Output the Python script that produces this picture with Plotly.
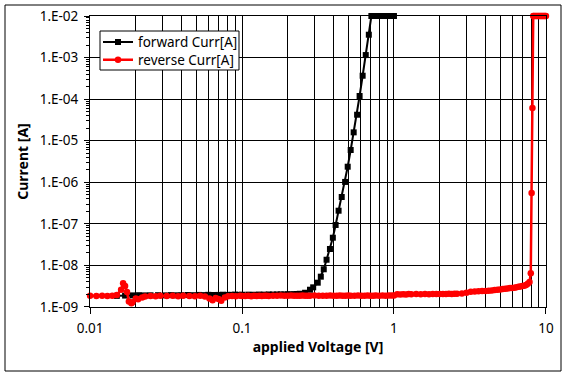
import plotly.graph_objects as go

# ---- data ----
fwd_v = [0.015, 0.017, 0.019, 0.021, 0.023, 0.025, 0.028, 0.031, 0.034, 0.037,
         0.040, 0.044, 0.048, 0.052, 0.056, 0.060, 0.065, 0.070, 0.075, 0.080,
         0.085, 0.090, 0.095, 0.10, 0.11, 0.12, 0.13, 0.14, 0.15, 0.16, 0.17,
         0.18, 0.19, 0.20, 0.21, 0.22, 0.23, 0.24, 0.26, 0.28, 0.294, 0.315,
         0.330, 0.345, 0.360, 0.379, 0.396, 0.413, 0.432, 0.453, 0.477, 0.496,
         0.519, 0.543, 0.572, 0.594, 0.622, 0.652, 0.683, 0.710, 0.73, 0.75,
         0.77, 0.79, 0.81, 0.83, 0.85, 0.87, 0.89, 0.91, 0.93, 0.95, 0.97, 1.0]
fwd_i = [1.85e-9, 1.88e-9, 1.90e-9, 1.92e-9, 1.90e-9, 1.91e-9, 1.92e-9, 1.90e-9, 1.93e-9, 1.91e-9,
         1.92e-9, 1.94e-9, 1.92e-9, 1.95e-9, 1.93e-9, 1.96e-9, 1.94e-9, 1.95e-9, 1.97e-9, 1.95e-9,
         1.96e-9, 1.98e-9, 1.96e-9, 1.97e-9, 1.98e-9, 1.97e-9, 1.99e-9, 1.98e-9, 2.00e-9, 1.99e-9, 2.00e-9,
         2.01e-9, 2.00e-9, 2.02e-9, 2.01e-9, 2.03e-9, 2.05e-9, 2.08e-9, 2.2e-9, 2.6e-9, 2.97e-9, 3.84e-9,
         5.36e-9, 8.07e-9, 1.37e-8, 2.48e-8, 4.64e-8, 9.4e-8, 2.07e-7, 4.43e-7, 1.02e-6, 2.37e-6,
         5.98e-6, 1.59e-5, 4.22e-5, 1.19e-4, 3.66e-4, 1.15e-3, 3.55e-3, 1.0e-2, 1.0e-2, 1.0e-2,
         1.0e-2, 1.0e-2, 1.0e-2, 1.0e-2, 1.0e-2, 1.0e-2, 1.0e-2, 1.0e-2, 1.0e-2, 1.0e-2, 1.0e-2, 1.0e-2]

rev_v = [0.010, 0.011, 0.012, 0.013, 0.014, 0.015, 0.016, 0.0165, 0.017, 0.0175,
         0.018, 0.0187, 0.019, 0.020, 0.0207, 0.022, 0.023, 0.025, 0.027, 0.029,
         0.032, 0.035, 0.038, 0.041, 0.045, 0.049, 0.053, 0.057, 0.061, 0.064,
         0.067, 0.070, 0.073, 0.077, 0.081, 0.086, 0.091, 0.097, 0.10, 0.105,
         0.11, 0.115, 0.12, 0.125, 0.13, 0.135, 0.14, 0.145, 0.15, 0.16,
         0.17, 0.18, 0.19, 0.20, 0.21, 0.22, 0.23, 0.24, 0.25, 0.26,
         0.27, 0.28, 0.30, 0.32, 0.34, 0.36, 0.38, 0.40, 0.42, 0.44,
         0.46, 0.48, 0.50, 0.52, 0.55, 0.58, 0.61, 0.64, 0.67, 0.70,
         0.73, 0.76, 0.80, 0.84, 0.88, 0.92, 0.96, 1.00, 1.05, 1.1,
         1.15, 1.2, 1.25, 1.3, 1.4, 1.5, 1.6, 1.7, 1.8, 1.9,
         2.0, 2.1, 2.2, 2.3, 2.4, 2.5, 2.6, 2.8, 3.0, 3.2,
         3.4, 3.6, 3.8, 4.0, 4.2, 4.4, 4.6, 4.8, 5.0, 5.2,
         5.4, 5.6, 5.8, 6.0, 6.2, 6.4, 6.6, 6.8, 7.0, 7.2,
         7.4, 7.6, 7.8, 7.95, 8.05, 8.15, 8.25, 8.35, 8.5, 8.65,
         8.8, 8.95, 9.1, 9.25, 9.4, 9.55, 9.7, 9.85, 10.0]
rev_i = [1.85e-9, 1.84e-9, 1.86e-9, 1.83e-9, 1.85e-9, 1.95e-9, 2.6e-9, 3.7e-9, 3.2e-9, 2.3e-9,
         1.35e-9, 1.23e-9, 1.3e-9, 1.6e-9, 1.53e-9, 1.7e-9, 1.78e-9, 1.84e-9, 1.82e-9, 1.86e-9,
         1.83e-9, 1.85e-9, 1.80e-9, 1.86e-9, 1.84e-9, 1.82e-9, 1.85e-9, 1.78e-9, 1.6e-9, 1.45e-9,
         1.65e-9, 1.55e-9, 1.42e-9, 1.7e-9, 1.8e-9, 1.83e-9, 1.82e-9, 1.85e-9, 1.84e-9, 1.83e-9,
         1.86e-9, 1.82e-9, 1.85e-9, 1.84e-9, 1.87e-9, 1.83e-9, 1.85e-9, 1.86e-9, 1.84e-9, 1.87e-9,
         1.85e-9, 1.88e-9, 1.86e-9, 1.85e-9, 1.88e-9, 1.86e-9, 1.87e-9, 1.85e-9, 1.88e-9, 1.86e-9,
         1.87e-9, 1.85e-9, 1.88e-9, 1.86e-9, 1.87e-9, 1.86e-9, 1.88e-9, 1.87e-9, 1.86e-9, 1.88e-9,
         1.87e-9, 1.86e-9, 1.88e-9, 1.87e-9, 1.86e-9, 1.88e-9, 1.87e-9, 1.86e-9, 1.88e-9, 1.87e-9,
         1.86e-9, 1.88e-9, 1.87e-9, 1.88e-9, 1.87e-9, 1.89e-9, 1.88e-9, 1.90e-9, 2.02e-9, 2.0e-9,
         2.03e-9, 2.01e-9, 2.04e-9, 2.02e-9, 2.04e-9, 2.02e-9, 2.05e-9, 2.03e-9, 2.06e-9, 2.04e-9,
         2.05e-9, 2.06e-9, 2.05e-9, 2.07e-9, 2.06e-9, 2.07e-9, 2.08e-9, 2.1e-9, 2.2e-9, 2.33e-9,
         2.35e-9, 2.38e-9, 2.42e-9, 2.44e-9, 2.46e-9, 2.48e-9, 2.55e-9, 2.58e-9, 2.64e-9, 2.70e-9,
         2.74e-9, 2.78e-9, 2.85e-9, 2.88e-9, 2.92e-9, 3.0e-9, 3.05e-9, 3.1e-9, 3.2e-9, 3.25e-9,
         3.4e-9, 3.6e-9, 4.0e-9, 6.5e-9, 5.5e-7, 6.1e-5, 1.0e-2, 1.0e-2, 1.0e-2, 1.0e-2,
         1.0e-2, 1.0e-2, 1.0e-2, 1.0e-2, 1.0e-2, 1.0e-2, 1.0e-2, 1.0e-2, 1.0e-2]

x_ticks = [0.01, 0.1, 1, 10]
x_labels = ["0.01", "0.1", "1", "10"]
y_ticks = [1e-9, 1e-8, 1e-7, 1e-6, 1e-5, 1e-4, 1e-3, 1e-2]
y_labels = ["1.E-09", "1.E-08", "1.E-07", "1.E-06", "1.E-05", "1.E-04", "1.E-03", "1.E-02"]

FONT = "Noto Sans"

W, H = 568, 377
L, R, T, B = 90, 22, 16, 70
pw, ph = W - L - R, H - T - B
EPS = 0.0005  # tiny range padding so points sitting exactly on the edge are kept


def px_to_paper_x(px):
    return (px - L) / pw


def px_to_paper_y(py):
    return (H - B - py) / ph


fig = go.Figure()
fig.add_trace(go.Scatter(
    x=fwd_v, y=fwd_i, name="forward Curr[A]", mode="lines+markers",
    line=dict(color="black", width=2),
    marker=dict(symbol="square", size=6, color="black"),
    cliponaxis=False, legend="legend",
))
fig.add_trace(go.Scatter(
    x=rev_v, y=rev_i, name="reverse Curr[A]", mode="lines+markers",
    line=dict(color="#ff0000", width=2.5),
    marker=dict(symbol="circle", size=6.5, color="#ff0000"),
    cliponaxis=False, legend="legend2",
))

leg_common = dict(
    xanchor="left", yanchor="middle",
    bgcolor="rgba(0,0,0,0)", borderwidth=0,
    font=dict(family=FONT, size=13.5, color="black"),
    itemwidth=30,
)

fig.update_layout(
    width=W, height=H,
    margin=dict(l=L, r=R, t=T, b=B, autoexpand=False),
    paper_bgcolor="white", plot_bgcolor="white",
    font=dict(family=FONT, size=13, color="black"),
    showlegend=True,
    legend=dict(x=px_to_paper_x(98), y=px_to_paper_y(42.3), **leg_common),
    legend2=dict(x=px_to_paper_x(98), y=px_to_paper_y(60), **leg_common),
    xaxis=dict(
        type="log", range=[-2 - EPS, 1 + EPS],
        tickmode="array", tickvals=x_ticks, ticktext=x_labels,
        ticks="outside", ticklen=6, tickcolor="black", tickwidth=1,
        showline=True, linecolor="black", linewidth=1, mirror=True,
        showgrid=True, gridcolor="black", gridwidth=1,
        minor=dict(dtick="D1", showgrid=True, gridcolor="black", gridwidth=1, ticks=""),
        tickfont=dict(family=FONT, size=13.5, color="black"),
        ticklabelstandoff=3,
        title=dict(text="<b>applied Voltage [V]</b>", font=dict(family=FONT, size=14, color="black"), standoff=5),
        zeroline=False,
    ),
    yaxis=dict(
        type="log", range=[-9 - EPS, -2 + EPS],
        tickmode="array", tickvals=y_ticks, ticktext=y_labels,
        ticks="outside", ticklen=5, tickcolor="black", tickwidth=1,
        showline=True, linecolor="black", linewidth=1, mirror=True,
        showgrid=True, gridcolor="black", gridwidth=1,
        minor=dict(dtick="D1", showgrid=False, ticks="outside", ticklen=3, tickcolor="black"),
        tickfont=dict(family=FONT, size=13.5, color="black"),
        ticklabelstandoff=3,
        title=dict(text="<b>Current [A]</b>", font=dict(family=FONT, size=14, color="black"), standoff=7),
        zeroline=False,
    ),
    shapes=[
        dict(type="rect", xref="paper", yref="paper",
             x0=px_to_paper_x(5), x1=px_to_paper_x(561),
             y0=px_to_paper_y(371), y1=px_to_paper_y(5),
             line=dict(color="black", width=1), fillcolor="rgba(0,0,0,0)", layer="above"),
        dict(type="rect", xref="paper", yref="paper",
             x0=px_to_paper_x(100), x1=px_to_paper_x(239),
             y0=px_to_paper_y(70), y1=px_to_paper_y(31),
             line=dict(color="black", width=1), fillcolor="white", layer="above"),
    ],
)

fig.write_html(
    "out.html",
    config={"displayModeBar": False},
    post_script="document.body.style.margin='0';document.body.style.padding='0';",
)
